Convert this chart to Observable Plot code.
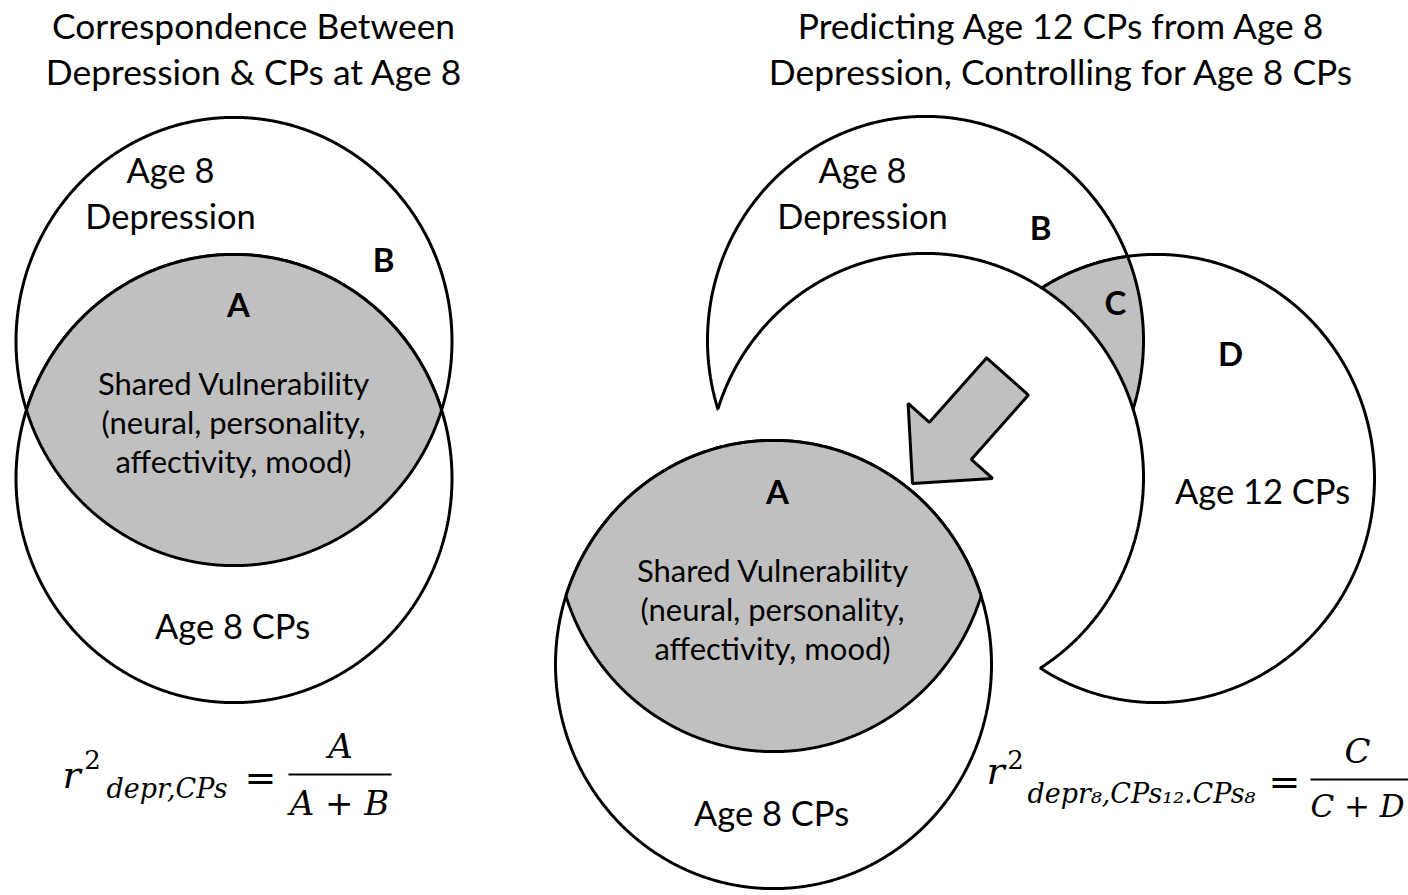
<!DOCTYPE html>
<html><head><meta charset="utf-8">
<script src="https://cdn.jsdelivr.net/npm/d3@7"></script>
<script src="https://cdn.jsdelivr.net/npm/@observablehq/plot@0.6"></script>
<style>html,body{margin:0;padding:0;background:#fff;} #chart svg{display:block}</style>
</head><body><div id="chart"></div>
<script>
// ---- Data (diagram units) ----
const circleNames = ["L_dep8", "L_cps8", "R_dep8", "R_cps8_prior", "R_cps12", "R_cps8", "R_dep8_aligned"];
const circleX = [233.5, 233.5, 925, 925, 1156, 773, 773];
const circleY = [341, 478, 340, 477, 478, 664, 527];
const circleR = [218, 218, 218, 218, 218, 218, 218];
const STRETCH = 1.028;

const titleText = ["Correspondence Between\nDepression & CPs at Age 8", "Predicting Age 12 CPs from Age 8\nDepression, Controlling for Age 8 CPs"];
const titleX = [253, 1060];
const titleY = [47, 47];

const setLabelText = ["Age 8\nDepression", "Age 8 CPs", "Age 8\nDepression", "Age 12 CPs", "Age 8 CPs"];
const setLabelX = [170, 232, 862, 1262, 771];
const setLabelY = [191, 624, 191, 489, 811];

const sharedText = ["Shared Vulnerability\n(neural, personality,\naffectivity, mood)", "Shared Vulnerability\n(neural, personality,\naffectivity, mood)"];
const sharedX = [233, 772];
const sharedY = [421, 608];

const regionLetters = ["A", "B", "A", "B", "C", "D"];
const regionX = [238, 383, 777, 1040, 1115, 1230];
const regionY = [306, 261, 493, 229, 304, 355];

// formula pieces
const fVar = ["r", "r"], fVarX = [71, 995], fVarY = [787, 783];
const fSup = ["2", "2"], fSupX = [92, 1015], fSupY = [768, 768];
const fSub = ["depr,CPs", "depr\u2088,CPs\u2081\u2082.CPs\u2088"], fSubX = [106, 1027], fSubY = [797, 802];
const fEq = ["=", "="], fEqX = [260, 1284], fEqY = [790, 794];
const fNum = ["A", "C"], fNumX = [340, 1357], fNumY = [757, 762];
const fDen = ["A + B", "C + D"], fDenX = [339, 1357], fDenY = [814, 816];
const fBarX1 = [288, 1310], fBarX2 = [391, 1408], fBarY = [774, 779];

const arrow = {tailX: 1007, tailY: 376, tipX: 912, tipY: 483, shaft: 56, head: 113, headLength: 57};

// ---- Geometry helpers ----
const C = Object.fromEntries(circleNames.map((n, i) => [n, {cx: circleX[i], cy: circleY[i], rx: circleR[i], ry: circleR[i] * STRETCH}]));
const STEP = 0.25;
const pt = (c, deg) => { const t = deg * Math.PI / 180; return {x: c.cx + c.rx * Math.cos(t), y: c.cy + c.ry * Math.sin(t)}; };
const inside = (c, p) => { const dx = (p.x - c.cx) / c.rx, dy = (p.y - c.cy) / c.ry; return dx * dx + dy * dy <= 1; };
function ring(c, id) { const a = []; for (let d = 0; d <= 360; d += STEP) a.push({...pt(c, d), id}); return a; }
function lens(c1, c2, id) {
  const pts = [];
  for (let d = 0; d < 360; d += STEP) {
    const p = pt(c1, d); if (inside(c2, p)) pts.push(p);
    const q = pt(c2, d); if (inside(c1, q)) pts.push(q);
  }
  const mx = d3.mean(pts, p => p.x), my = d3.mean(pts, p => p.y);
  pts.sort((a, b) => Math.atan2(a.y - my, a.x - mx) - Math.atan2(b.y - my, b.x - mx));
  pts.push(pts[0]);
  return pts.map(p => ({...p, id}));
}
function arcInside(c, others, startDeg, id) {
  const a = [];
  for (let d = startDeg; d <= startDeg + 360; d += STEP) { const p = pt(c, d); if (others.some(o => inside(o, p))) a.push({...p, id}); }
  return a;
}
function arrowPoly(a) {
  const dx = a.tipX - a.tailX, dy = a.tipY - a.tailY, L = Math.hypot(dx, dy), ux = dx / L, uy = dy / L, px = -uy, py = ux;
  const bx = a.tipX - ux * a.headLength, by = a.tipY - uy * a.headLength, s = a.shaft / 2, h = a.head / 2;
  return [[a.tailX + px * s, a.tailY + py * s], [bx + px * s, by + py * s], [bx + px * h, by + py * h], [a.tipX, a.tipY],
          [bx - px * h, by - py * h], [bx - px * s, by - py * s], [a.tailX - px * s, a.tailY - py * s], [a.tailX + px * s, a.tailY + py * s]]
    .map(([x, y]) => ({x, y, id: "arrow"}));
}

const GRAY = "#c0c0c0";
const SW = 3;
const shape = (data, fill, stroke = "black") => Plot.line(data, {x: "x", y: "y", z: "id", fill, stroke, strokeWidth: SW, strokeLinejoin: "miter"});

const rows = (texts, xs, ys) => texts.map((t, i) => ({t, x: xs[i], y: ys[i]}));
const SANS = "Lato, 'Open Sans', sans-serif";
const SERIF = "'DejaVu Serif', serif";
const den = rows(fDen, fDenX, fDenY);

const chart = Plot.plot({
  width: 1408, height: 895, margin: 0,
  x: {domain: [0, 1408], range: [0, 1408], axis: null},
  y: {domain: [0, 895], range: [0, 895], axis: null},
  style: {background: "white"},
  marks: [
    // left diagram
    shape(ring(C.L_dep8, "ld"), "white"),
    shape(ring(C.L_cps8, "lc"), "white"),
    shape(lens(C.L_dep8, C.L_cps8, "lA"), GRAY),
    // right diagram
    shape(ring(C.R_dep8, "rd"), "white"),
    shape(ring(C.R_cps12, "r12"), "white"),
    shape(lens(C.R_dep8, C.R_cps12, "rC"), GRAY),
    shape(ring(C.R_cps8_prior, "rp"), "white", "none"),
    shape(arcInside(C.R_cps8_prior, [C.R_dep8, C.R_cps12], 90, "rpa"), "none"),
    shape(ring(C.R_cps8, "rc"), "white"),
    shape(lens(C.R_cps8, C.R_dep8_aligned, "rA"), GRAY),
    shape(arrowPoly(arrow), GRAY),
    // titles and labels
    Plot.text(rows(titleText, titleX, titleY), {x: "x", y: "y", text: "t", fontSize: 35.4, fontFamily: SANS, lineHeight: 1.3, fill: "black"}),
    Plot.text(rows(setLabelText, setLabelX, setLabelY), {x: "x", y: "y", text: "t", fontSize: 34.5, fontFamily: SANS, lineHeight: 1.333, fill: "black"}),
    Plot.text(rows(sharedText, sharedX, sharedY), {x: "x", y: "y", text: "t", fontSize: 31, fontFamily: SANS, lineHeight: 1.26, fill: "black"}),
    Plot.text(rows(regionLetters, regionX, regionY), {x: "x", y: "y", text: "t", fontSize: 33, fontWeight: "bold", fontFamily: SANS, fill: "black"}),
    // formulas
    Plot.text(rows(fVar, fVarX, fVarY), {x: "x", y: "y", text: "t", fontSize: 38, fontStyle: "italic", fontFamily: SERIF, lineAnchor: "bottom", fill: "black"}),
    Plot.text(rows(fSup, fSupX, fSupY), {x: "x", y: "y", text: "t", fontSize: 26, fontFamily: SERIF, lineAnchor: "bottom", fill: "black"}),
    Plot.text(rows(fSub, fSubX, fSubY), {x: "x", y: "y", text: "t", fontSize: 27, fontStyle: "italic", fontFamily: SERIF, lineAnchor: "bottom", textAnchor: "start", fill: "black"}),
    Plot.text(rows(fEq, fEqX, fEqY), {x: "x", y: "y", text: "t", fontSize: 38, fontFamily: SERIF, lineAnchor: "bottom", fill: "black"}),
    Plot.text(rows(fNum, fNumX, fNumY), {x: "x", y: "y", text: "t", fontSize: 34, fontStyle: "italic", fontFamily: SERIF, lineAnchor: "bottom", fill: "black"}),
    Plot.text(den.slice(0, 1), {x: "x", y: "y", text: "t", fontSize: 34, fontStyle: "italic", fontFamily: SERIF, lineAnchor: "bottom", fill: "black"}),
    Plot.text(den.slice(1), {x: "x", y: "y", text: "t", fontSize: 31, fontStyle: "italic", fontFamily: SERIF, lineAnchor: "bottom", fill: "black"}),
    Plot.link(fBarX1.map((x1, i) => ({x1, x2: fBarX2[i], y: fBarY[i]})), {x1: "x1", x2: "x2", y1: "y", y2: "y", stroke: "black", strokeWidth: 2})
  ]
});
document.getElementById("chart").append(chart);
</script>
</body></html>
